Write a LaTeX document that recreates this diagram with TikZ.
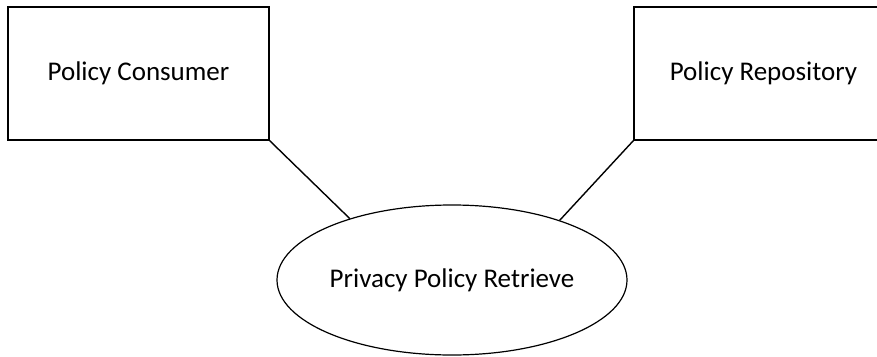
\documentclass[tikz,border=0pt]{standalone}
\usepackage{fontspec}
\setmainfont{Carlito}
\usetikzlibrary{shapes.geometric}
\begin{document}
\begin{tikzpicture}[x=1pt,y=-1pt,
  every node/.style={font=\fontsize{27}{32}\selectfont},
  boxnode/.style={draw,line width=1.4pt,rectangle,inner sep=0pt,minimum height=133pt},
  ellnode/.style={draw,line width=1.2pt,ellipse,inner sep=0pt,minimum width=350pt,minimum height=150pt},
  link/.style={line width=1.4pt}]
\clip (0,0) rectangle (877,356);
\fill[white] (0,0) rectangle (877,356);
\node[boxnode,minimum width=261pt] (pc) at (138.5,73.5) {Policy Consumer};
\node[boxnode,minimum width=259pt] (pr) at (763.5,73.5) {Policy Repository};
\node[ellnode] (ret) at (452,280) {Privacy Policy Retrieve};
\draw[link] (pc.south east) -- (ret.149);
\draw[link] (pr.south west) -- (ret.29);
\end{tikzpicture}
\end{document}
